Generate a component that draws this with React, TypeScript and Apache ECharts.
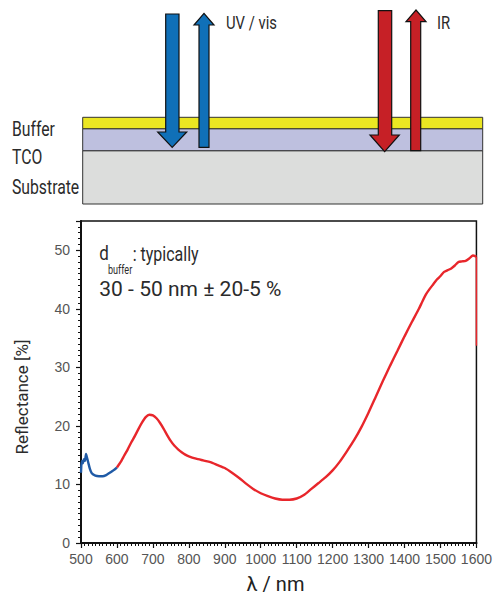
import React, { useEffect, useRef } from "react";
import * as echarts from "echarts";

// ---- data ----
const uvWavelength = [500, 502, 505, 508, 511, 514, 517, 520, 525, 530, 540, 550, 560, 570, 580, 590, 600];
const uvReflectance = [12.0, 14.0, 13.6, 14.3, 14.0, 15.2, 14.5, 13.8, 12.6, 11.9, 11.5, 11.4, 11.4, 11.6, 12.0, 12.4, 12.9];

const irWavelength = [
  600, 610, 620, 630, 640, 650, 660, 670, 680, 690, 700, 710, 720, 730, 740, 750, 760, 770, 780, 790,
  800, 820, 840, 860, 880, 900, 920, 940, 960, 980, 1000, 1020, 1040, 1060, 1080, 1100, 1120, 1140,
  1160, 1180, 1200, 1220, 1240, 1260, 1280, 1300, 1320, 1340, 1360, 1380, 1400, 1420, 1440, 1450,
  1460, 1470, 1480, 1490, 1500, 1510, 1520, 1530, 1540, 1550, 1560, 1570, 1580, 1590, 1600,
];
const irReflectance = [
  12.9, 13.8, 14.9, 16.0, 17.2, 18.3, 19.5, 20.6, 21.5, 21.9, 21.8, 21.3, 20.5, 19.5, 18.4, 17.4, 16.6, 16.0, 15.5, 15.1,
  14.8, 14.4, 14.1, 13.8, 13.3, 12.8, 12.0, 11.1, 10.1, 9.2, 8.5, 8.0, 7.6, 7.4, 7.4, 7.6, 8.2, 9.2,
  10.2, 11.2, 12.4, 13.9, 15.7, 17.6, 19.8, 22.3, 25.0, 27.7, 30.3, 32.8, 35.3, 37.7, 40.0, 41.3,
  42.5, 43.4, 44.2, 45.0, 45.6, 46.3, 46.6, 46.9, 47.4, 48.0, 48.1, 48.2, 48.6, 49.1, 48.9,
];
const dropWavelength = [1600, 1600];
const dropReflectance = [48.9, 33.7];

const xMin = 500;
const xMax = 1600;
const xStep = 100;
const yMin = 0;
const yMax = 55;
const yStep = 10;

const ROBOTO = "Roboto, 'Liberation Sans', sans-serif";
const SANS = "'Liberation Sans', Arial, sans-serif";

function pairs(xs: number[], ys: number[]) {
  return xs.map((x, i) => [x, ys[i]]);
}

function arrow(xl: number, xr: number, yBase: number, yh: number, hl: number, hr: number, tip: number, fill: string) {
  const xc = (hl + hr) / 2;
  return {
    type: "polygon",
    shape: { points: [[xl, yBase], [xr, yBase], [xr, yh], [hr, yh], [xc, tip], [hl, yh], [xl, yh]] },
    style: { fill, stroke: "#111", lineWidth: 1.2 },
    z: 10,
  };
}
function label(text: string, x: number, y: number, size: number, scaleX = 1, extra: any = {}) {
  return {
    type: "text",
    z: 11,
    x, y, scaleX,
    style: {
      text, x: 0, y: 0,
      fill: "#2b2b2b",
      font: `${size}px ${ROBOTO}`,
      align: "left", textAlign: "left",
      verticalAlign: "middle", textVerticalAlign: "middle",
      ...extra,
    },
  };
}

export default function App() {
  const ref = useRef<HTMLDivElement>(null);
  useEffect(() => {
    if (!ref.current) return;
    const chart = echarts.init(ref.current, undefined, { renderer: "svg" });
    const blue = "#1070b8";
    const red = "#c62026";
    chart.setOption({
      animation: false,
      backgroundColor: "#ffffff",
      grid: { left: 81, right: 17, top: 221, bottom: 54, show: true, borderColor: "#111", borderWidth: 1.5, backgroundColor: "transparent" },
      xAxis: {
        type: "value",
        min: xMin,
        max: xMax,
        interval: xStep,
        axisLine: { show: true, lineStyle: { color: "#111", width: 2 } },
        axisTick: { show: true, inside: false, length: 5, lineStyle: { color: "#111", width: 1.2 } },
        minorTick: { show: true, splitNumber: 10, length: 3, lineStyle: { color: "#111", width: 1 } },
        splitLine: { show: false },
        axisLabel: { margin: 9, fontFamily: SANS, fontSize: 14, color: "#555", formatter: (v: number) => String(v) },
      },
      yAxis: {
        type: "value",
        min: yMin,
        max: yMax,
        interval: yStep,
        axisLine: { show: true, lineStyle: { color: "#111", width: 2 } },
        axisTick: { show: true, inside: false, length: 5, lineStyle: { color: "#111", width: 1.2 } },
        minorTick: { show: true, splitNumber: 10, length: 3, lineStyle: { color: "#111", width: 1 } },
        splitLine: { show: false },
        axisLabel: { margin: 11, fontFamily: SANS, fontSize: 14, color: "#555", showMaxLabel: false },
      },
      series: [
        {
          type: "line",
          data: pairs(uvWavelength, uvReflectance),
          showSymbol: false,
          smooth: 0.2,
          lineStyle: { color: "#1f5aa6", width: 2.4 },
          z: 3,
        },
        {
          type: "line",
          data: pairs(irWavelength, irReflectance),
          showSymbol: false,
          smooth: 0.2,
          lineStyle: { color: "#e8262b", width: 2.4 },
          z: 3,
        },
        {
          type: "line",
          data: pairs(dropWavelength, dropReflectance),
          showSymbol: false,
          lineStyle: { color: "#e8262b", width: 1.5 },
          z: 3,
        },
      ],
      graphic: [
        { type: "rect", shape: { x: 82.7, y: 150.7, width: 400, height: 53.3 }, style: { fill: "#dcdddc", stroke: "#333", lineWidth: 1 }, z: 5 },
        { type: "rect", shape: { x: 82.7, y: 128.7, width: 400, height: 22 }, style: { fill: "#bec0df", stroke: "#333", lineWidth: 1 }, z: 5 },
        { type: "rect", shape: { x: 82.7, y: 117.3, width: 400, height: 11.4 }, style: { fill: "#ebe622", stroke: "#333", lineWidth: 1 }, z: 5 },
        arrow(165.7, 179, 14, 132, 157.7, 186.7, 147.3, blue),
        arrow(199, 209, 147.3, 25, 194, 214, 13.3, blue),
        arrow(378.3, 391.7, 10.7, 135, 370, 399.3, 151.7, red),
        arrow(410.7, 420.7, 150.7, 21.7, 406, 426, 10, red),
        label("UV / vis", 226, 22.5, 19, 0.78),
        label("IR", 437, 22.5, 19, 0.78),
        label("Buffer", 12, 129, 21, 0.75),
        label("TCO", 12, 157, 21, 0.75),
        label("Substrate", 12, 187.5, 21, 0.75),
        label("d", 99.3, 254, 20, 0.85),
        label("buffer", 108, 270.4, 13, 0.7),
        label(": typically", 132.7, 254, 20, 0.8),
        label("30 - 50 nm ± 20-5 %", 99.3, 289, 21, 1),
        {
          type: "text", z: 11, x: 22, y: 397, rotation: Math.PI / 2,
          style: { text: "Reflectance [%]", x: 0, y: 0, fill: "#2b2b2b", font: `17px ${ROBOTO}`, align: "center", textAlign: "center", verticalAlign: "middle", textVerticalAlign: "middle" },
        },
        {
          type: "text", z: 11, x: 275.5, y: 584,
          style: { text: "λ / nm", x: 0, y: 0, fill: "#222", font: `20px ${ROBOTO}`, align: "center", textAlign: "center", verticalAlign: "middle", textVerticalAlign: "middle" },
        },
      ],
    });
    return () => chart.dispose();
  }, []);
  return <div ref={ref} style={{ position: "fixed", left: 0, top: 0, width: 495, height: 597, background: "#fff" }} />;
}
